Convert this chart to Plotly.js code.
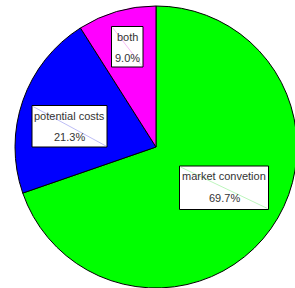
<!DOCTYPE html>
<html>
<head>
<meta charset="utf-8">
<script src="https://cdn.plot.ly/plotly-3.0.1.min.js"></script>
<style>
html,body{margin:0;padding:0;overflow:hidden;background:#fff;}
#chart{width:297px;height:288px;}
</style>
</head>
<body>
<div id="chart"></div>
<script>
var categories = ["market convetion", "potential costs", "both"];
var values = [69.7, 21.3, 9.0];
var pctLabels = ["69.7%", "21.3%", "9.0%"];
var colors = ["#00ff00", "#0000ff", "#ff00ff"];
var diagColors = ["#a0f0a0", "#a0a0f0", "#f0a0f0"];

// layout geometry (pixels)
var ML = 15, MT = 6, S = 282;
function px(x){ return (x - ML) / S; }
function py(y){ return 1 - (y - MT) / S; }

// label boxes in pixel coordinates [x0, y0, x1, y1, yTop text, yBottom text]
var boxes = [
  [179.5, 166, 268.5, 209.5, 175.5, 197.5],
  [32, 105.5, 107, 147, 116, 136.5],
  [111.5, 26.5, 143, 67, 36.5, 57.5]
];

var shapes = [], annotations = [];
for (var i = 0; i < categories.length; i++) {
  var b = boxes[i];
  shapes.push({type:'rect', xref:'paper', yref:'paper',
    x0:px(b[0]), x1:px(b[2]), y0:py(b[3]), y1:py(b[1]),
    fillcolor:'#ffffff', line:{color:'#000000', width:1}, layer:'above'});
  shapes.push({type:'line', xref:'paper', yref:'paper',
    x0:px(b[0]+1), x1:px(b[2]-1), y0:py(b[1]+1), y1:py(b[3]-1),
    line:{color:diagColors[i], width:0.7}, layer:'above'});
  var cx = (b[0] + b[2]) / 2;
  annotations.push({xref:'paper', yref:'paper', x:px(cx), y:py(b[4]),
    text:categories[i], showarrow:false, xanchor:'center', yanchor:'middle',
    font:{family:'Liberation Sans, Arial, sans-serif', size:11, color:'#333333'}});
  annotations.push({xref:'paper', yref:'paper', x:px(cx), y:py(b[5]),
    text:pctLabels[i], showarrow:false, xanchor:'center', yanchor:'middle',
    font:{family:'Liberation Sans, Arial, sans-serif', size:11, color:'#333333'}});
}

var data = [{
  type:'pie',
  labels:categories,
  values:values,
  sort:false,
  direction:'clockwise',
  rotation:0,
  textinfo:'none',
  hoverinfo:'none',
  marker:{colors:colors, line:{color:'#000000', width:1}},
  domain:{x:[0,1], y:[0,1]}
}];

var layout = {
  width:297, height:288,
  margin:{l:ML, r:0, t:MT, b:0, pad:0},
  showlegend:false,
  paper_bgcolor:'#ffffff',
  plot_bgcolor:'#ffffff',
  shapes:shapes,
  annotations:annotations
};

Plotly.newPlot('chart', data, layout, {displayModeBar:false, staticPlot:true});
</script>
</body>
</html>
